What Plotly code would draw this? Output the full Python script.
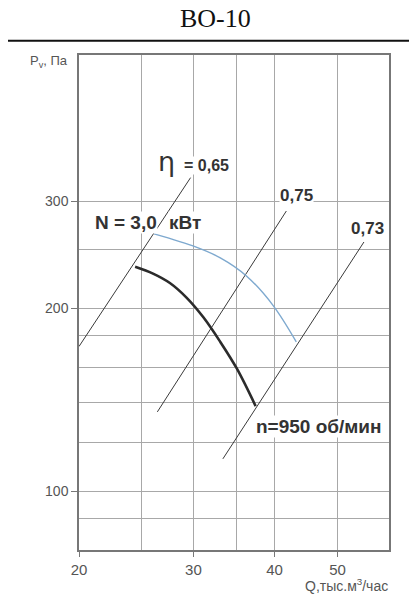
"""
ВО-10 fan curve: pressure vs air flow on log-log axes,
with efficiency rays and the n=950 rpm working curve.
"""

import numpy as np
import plotly.graph_objects as go

# axis ticks and grid (log scale)
X_TICKS = [20, 30, 40, 50]
X_MINOR = [25, 35]
Y_TICKS = [100, 200, 300]
Y_MINOR = [90, 120, 140, 160, 180, 250]

# efficiency rays (Q, тыс. м3/час ; P, Па)
ETA_065_Q = [20.0, 29.7]
ETA_065_P = [173, 328]
ETA_075_Q = [26.4, 41.7]
ETA_075_P = [135, 289]
ETA_073_Q = [33.3, 54.9]
ETA_073_P = [113, 257]

# blue curve
BLUE_Q = [26.1, 30.3, 33.0, 36.2, 39.8, 43.2]
BLUE_P = [265, 252, 242, 226, 202, 176]

# n = 950 об/мин working curve
N950_Q = [24.4, 26.0, 27.6, 29.3, 31.1, 33.0, 35.0, 37.4]
N950_P = [234, 228, 220, 208, 193, 176, 159, 138]

RAY = dict(color="#3a3a3a", width=1)
SANS = "Liberation Sans, Arial, sans-serif"
GREY_TXT = "#555"


def build():
    fig = go.Figure()

    for q, p in [(ETA_065_Q, ETA_065_P), (ETA_075_Q, ETA_075_P), (ETA_073_Q, ETA_073_P)]:
        fig.add_trace(go.Scatter(x=q, y=p, mode="lines", line=RAY, showlegend=False))

    fig.add_trace(go.Scatter(x=BLUE_Q, y=BLUE_P, mode="lines", line_shape="spline",
                             line=dict(color="#7ea9cf", width=1.4), showlegend=False))
    fig.add_trace(go.Scatter(x=N950_Q, y=N950_P, mode="lines", line_shape="spline",
                             line=dict(color="#2b2b2b", width=2.6), showlegend=False))

    grid = dict(showgrid=True, gridcolor="#a8a8a8", gridwidth=1)
    fig.update_xaxes(
        type="log", range=[np.log10(20), np.log10(60)],
        tickvals=X_TICKS, ticktext=[str(v) for v in X_TICKS],
        ticks="outside", ticklen=5, tickcolor="#777",
        minor=dict(tickvals=X_MINOR, ticks="", **grid),
        showline=True, mirror=True, linecolor="#777", linewidth=1.5,
        zeroline=False, tickfont=dict(family=SANS, size=15, color=GREY_TXT),
        **grid,
    )
    fig.update_yaxes(
        type="log", range=[np.log10(80), np.log10(522)],
        tickvals=Y_TICKS, ticktext=[str(v) for v in Y_TICKS],
        ticks="outside", ticklen=6, tickcolor="#777",
        minor=dict(tickvals=Y_MINOR, ticks="", **grid),
        showline=True, mirror=True, linecolor="#777", linewidth=1.5,
        zeroline=False, tickfont=dict(family=SANS, size=14, color=GREY_TXT),
        **grid,
    )

    def label(text, x, y, size=13, xanchor="left", color="#333", bg="white", family=SANS):
        fig.add_annotation(text=text, x=x, y=y, xref="paper", yref="paper",
                           xanchor=xanchor, yanchor="middle", showarrow=False,
                           font=dict(family=family, size=size, color=color),
                           bgcolor=bg, borderpad=0)

    label("η", 0.250, 0.784, size=27, family="DejaVu Sans, sans-serif")
    label("<b>= 0,65</b>", 0.335, 0.777, size=16)
    label("<b>N = 3,0</b>", 0.049, 0.662, size=19)
    label("<b>кВт</b>", 0.286, 0.662, size=19)
    label("<b>0,75</b>", 0.703, 0.717, size=17, xanchor="center")
    label("<b>0,73</b>", 0.931, 0.650, size=17, xanchor="center")
    label("<b>n=950 об/мин</b>", 0.567, 0.249, size=19)

    label("P<sub>v</sub>, Па", -0.160, 0.986, size=13, color=GREY_TXT, bg="rgba(0,0,0,0)")
    label("Q,тыс.м<sup>3</sup>/час", 1.0, -0.071, size=14, xanchor="right",
          color=GREY_TXT, bg="rgba(0,0,0,0)")

    # heading, drawn as a paper annotation above the plot
    label("ВО-10", 0.44, 1.074, size=26, xanchor="center", color="#111",
          bg="rgba(0,0,0,0)", family="Liberation Serif, Times New Roman, serif")

    # rule under the heading
    fig.add_shape(type="line", xref="paper", yref="paper",
                  x0=-0.26, x1=1.10, y0=1.029, y1=1.029,
                  line=dict(color="#111", width=2))

    fig.update_layout(
        width=417, height=600,
        margin=dict(l=71, r=36, t=47, b=58),
        paper_bgcolor="white", plot_bgcolor="white",
        showlegend=False,
    )
    return fig


if __name__ == "__main__":
    fig = build()
    fig.write_html("out.html")
